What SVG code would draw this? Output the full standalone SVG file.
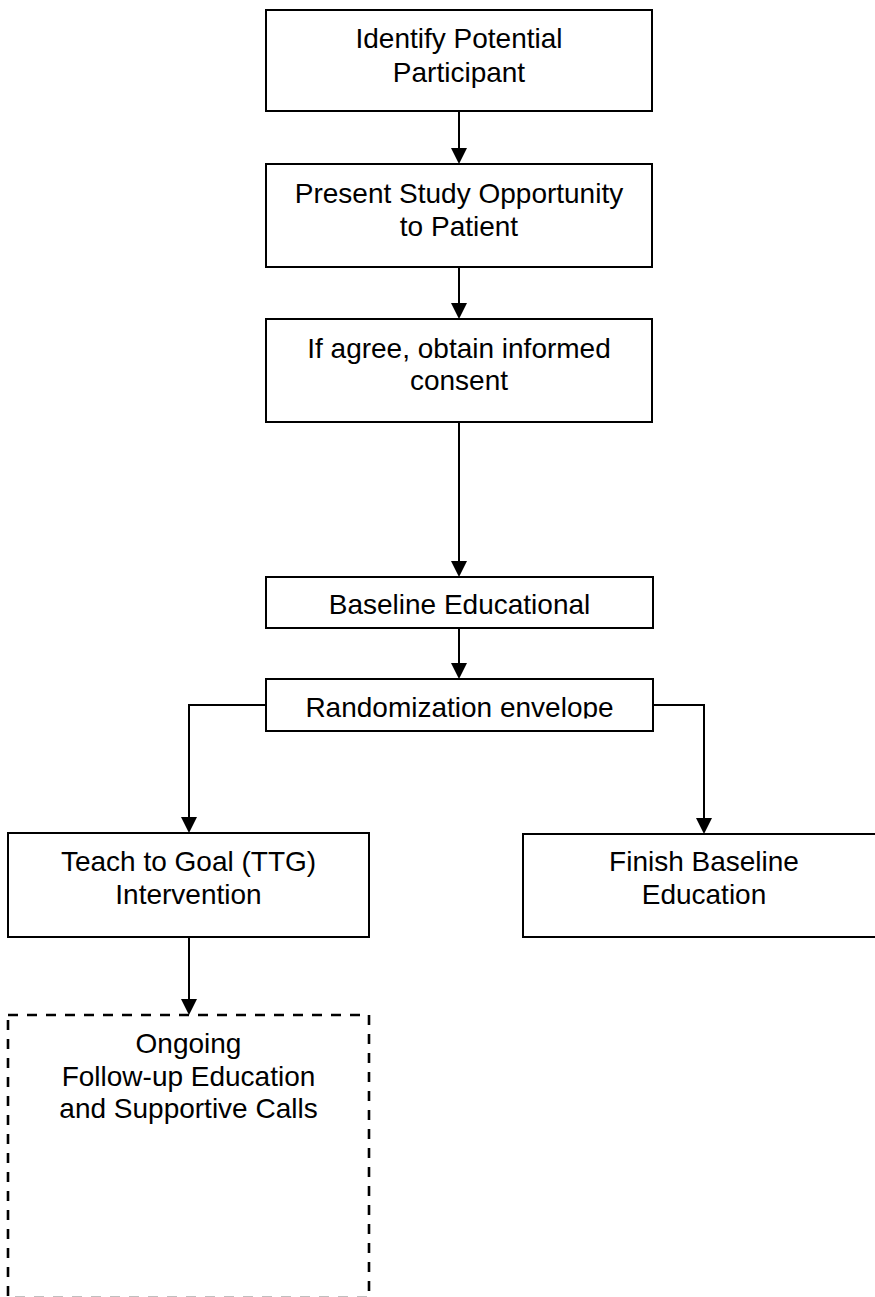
<svg xmlns="http://www.w3.org/2000/svg" width="875" height="1297" viewBox="0 0 875 1297">
<style>
.box{fill:#fff;stroke:#000;stroke-width:2}
.dash{fill:#fff;stroke:#000;stroke-width:2.6;stroke-dasharray:10 9}
.t{font-family:"Liberation Sans",Arial,sans-serif;font-size:28px;fill:#000;text-anchor:middle}
.c{fill:none;stroke:#000;stroke-width:2;marker-end:url(#ah)}
</style>
<defs>
<marker id="ah" markerUnits="userSpaceOnUse" markerWidth="16" markerHeight="16" viewBox="0 0 16 16" refX="8" refY="8" orient="auto">
<path d="M0,0 L16,8 L0,16 z" fill="#000"/>
</marker>
<clipPath id="rclip"><rect x="266" y="679" width="387" height="39.5"/></clipPath>
</defs>
<rect width="875" height="1297" fill="#fff"/>
<g id="connectors">
<path class="c" d="M459,111 V156"/>
<path class="c" d="M459,267 V311"/>
<path class="c" d="M459,422 V569"/>
<path class="c" d="M459,628 V671"/>
<path class="c" d="M266,705 H189 V825"/>
<path class="c" d="M653,705 H704 V826"/>
<path class="c" d="M189,937 V1007"/>
</g>
<g id="n1">
<rect class="box" x="266" y="10" width="386" height="101"/>
<text class="t" x="459" y="48">Identify Potential</text>
<text class="t" x="459" y="82">Participant</text>
</g>
<g id="n2">
<rect class="box" x="266" y="164" width="386" height="103"/>
<text class="t" x="459" y="203">Present Study Opportunity</text>
<text class="t" x="459" y="236">to Patient</text>
</g>
<g id="n3">
<rect class="box" x="266" y="319" width="386" height="103"/>
<text class="t" x="459" y="358">If agree, obtain informed</text>
<text class="t" x="459" y="390">consent</text>
</g>
<g id="n4">
<rect class="box" x="266" y="577" width="387" height="51"/>
<text class="t" x="459.5" y="614">Baseline Educational</text>
</g>
<g id="n5">
<rect class="box" x="266" y="679" width="387" height="52"/>
<text class="t" x="459.5" y="717" clip-path="url(#rclip)">Randomization envelope</text>
</g>
<g id="n6">
<rect class="box" x="8" y="833" width="361" height="104"/>
<text class="t" x="188.5" y="871">Teach to Goal (TTG)</text>
<text class="t" x="188.5" y="904">Intervention</text>
</g>
<g id="n7">
<rect class="box" x="523" y="834" width="362" height="103"/>
<text class="t" x="704" y="871">Finish Baseline</text>
<text class="t" x="704" y="904">Education</text>
</g>
<g id="n8">
<rect class="dash" x="8" y="1015" width="361" height="283"/>
<text class="t" x="188.5" y="1053">Ongoing</text>
<text class="t" x="188.5" y="1086">Follow-up Education</text>
<text class="t" x="188.5" y="1118">and Supportive Calls</text>
</g>
</svg>
